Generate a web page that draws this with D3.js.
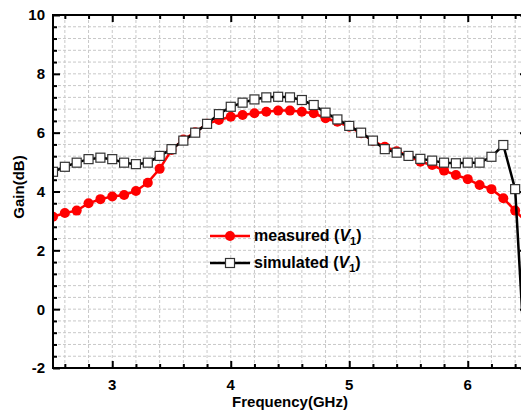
<!DOCTYPE html>
<html>
  <head>
    <meta charset='utf-8' />
    <script src="https://d3js.org/d3.v7.min.js"></script>
    <style>
    body { margin: 0; background: #fff; }
    svg { display: block; overflow: hidden; }
    text { font-family: "Liberation Sans", Arial, sans-serif; font-weight: bold; fill: #000; }
    </style>
  </head>
  <body>
    <div id="chart"></div>
    <script>
var freq = [2.5, 2.6, 2.7, 2.8, 2.9, 3.0, 3.1, 3.2, 3.3, 3.4, 3.5, 3.6, 3.7, 3.8, 3.9,
            4.0, 4.1, 4.2, 4.3, 4.4, 4.5, 4.6, 4.7, 4.8, 4.9, 5.0, 5.1, 5.2, 5.3, 5.4,
            5.5, 5.6, 5.7, 5.8, 5.9, 6.0, 6.1, 6.2, 6.3, 6.4, 6.5];
var measured = [3.14, 3.27, 3.35, 3.6, 3.74, 3.83, 3.88, 4.02, 4.30, 4.77, 5.41, 5.77, 6.01, 6.30, 6.43,
                6.54, 6.60, 6.66, 6.71, 6.75, 6.75, 6.71, 6.66, 6.49, 6.37, 6.20, 5.98, 5.72, 5.52, 5.37,
                5.21, 5.01, 4.90, 4.71, 4.56, 4.42, 4.22, 4.08, 3.77, 3.35, 2.95];
var simulated = [4.67, 4.84, 4.98, 5.10, 5.15, 5.10, 4.98, 4.93, 4.98, 5.21, 5.44, 5.73, 6.00, 6.30, 6.63,
                 6.88, 7.02, 7.13, 7.20, 7.22, 7.20, 7.11, 6.94, 6.68, 6.45, 6.23, 6.00, 5.73, 5.44, 5.32,
                 5.21, 5.11, 5.05, 4.98, 4.96, 4.98, 4.98, 5.18, 5.58, 4.08, -3.0];
var xTicks = [3, 4, 5, 6];
var yTicks = [-2, 0, 2, 4, 6, 8, 10];
var xDomain = [2.5, 6.5], yDomain = [-2, 10];

var width = 521, height = 412;
var margin = {top: 15, left: 53, bottom: 44, right: -6};
var innerW = width - margin.left - margin.right,
    innerH = height - margin.top - margin.bottom;

var svg = d3.select("#chart").append("svg")
    .attr("width", width).attr("height", height);
var g = svg.append("g")
    .attr("transform", "translate(" + margin.left + "," + margin.top + ")");

var x = d3.scaleLinear().domain(xDomain).range([0, innerW]);
var y = d3.scaleLinear().domain(yDomain).range([innerH, 0]);

// minor positions for grid and small ticks
var xMinor = d3.range(13, 33).map(function(d) { return d / 5; });
var yMinor = d3.range(-4, 26).map(function(d) { return d * 0.4; })
    .filter(function(d) { return d > -2.01 && d < 10.01; });

// grid
g.append("g").selectAll("line").data(xMinor).enter().append("line")
  .attr("x1", function(d) { return x(d); }).attr("x2", function(d) { return x(d); })
  .attr("y1", 0).attr("y2", innerH)
  .style("stroke", "#c8c8c8").style("stroke-width", 1).style("stroke-dasharray", "3,2");
g.append("g").selectAll("line").data(yMinor).enter().append("line")
  .attr("y1", function(d) { return y(d); }).attr("y2", function(d) { return y(d); })
  .attr("x1", 0).attr("x2", innerW)
  .style("stroke", "#c8c8c8").style("stroke-width", 1).style("stroke-dasharray", "3,2");

// axes with inward ticks on all four sides
function styleAxis(sel) {
  sel.select(".domain").remove();
  sel.selectAll(".tick line").style("stroke", "#000").style("stroke-width", 2);
  sel.selectAll("text").remove();
}
var xMinorOnly = xMinor.filter(function(d) { return xTicks.indexOf(Math.round(d * 10) / 10) < 0; });
var yMinorOnly = yMinor.filter(function(d) { return yTicks.indexOf(Math.round(d * 10) / 10) < 0; });

g.append("g").attr("transform", "translate(0," + innerH + ")")
  .call(d3.axisBottom(x).tickValues(xTicks).tickSize(-7)).call(styleAxis);
g.append("g").attr("transform", "translate(0," + innerH + ")")
  .call(d3.axisBottom(x).tickValues(xMinorOnly).tickSize(-4)).call(styleAxis);
g.append("g").call(d3.axisTop(x).tickValues(xTicks).tickSize(-7)).call(styleAxis);
g.append("g").call(d3.axisTop(x).tickValues(xMinorOnly).tickSize(-4)).call(styleAxis);
g.append("g").call(d3.axisLeft(y).tickValues(yTicks).tickSize(-7)).call(styleAxis);
g.append("g").call(d3.axisLeft(y).tickValues(yMinorOnly).tickSize(-4)).call(styleAxis);
g.append("g").attr("transform", "translate(" + innerW + ",0)")
  .call(d3.axisRight(y).tickValues(yTicks).tickSize(-7)).call(styleAxis);
g.append("g").attr("transform", "translate(" + innerW + ",0)")
  .call(d3.axisRight(y).tickValues(yMinorOnly).tickSize(-4)).call(styleAxis);

// tick labels
g.append("g").selectAll("text").data(xTicks).enter().append("text")
  .attr("x", function(d) { return x(d); }).attr("y", innerH + 22)
  .style("text-anchor", "middle").style("font-size", "15px")
  .text(function(d) { return d; });
g.append("g").selectAll("text").data(yTicks).enter().append("text")
  .attr("x", -8).attr("y", function(d) { return y(d); }).attr("dy", "0.36em")
  .style("text-anchor", "end").style("font-size", "15px")
  .text(function(d) { return d; });

// titles
svg.append("text").attr("x", 290).attr("y", 407)
  .style("text-anchor", "middle").style("font-size", "15px")
  .text("Frequency(GHz)");
svg.append("text").attr("transform", "translate(24,187) rotate(-90)")
  .style("text-anchor", "middle").style("font-size", "15px")
  .text("Gain(dB)");

// data
svg.append("clipPath").attr("id", "clip").append("rect")
  .attr("width", innerW).attr("height", innerH);
var data = freq.map(function(f, i) { return {f: f, m: measured[i], s: simulated[i]}; });
var lineM = d3.line().x(function(d) { return x(d.f); }).y(function(d) { return y(d.m); });
var lineS = d3.line().x(function(d) { return x(d.f); }).y(function(d) { return y(d.s); });

var plot = g.append("g").attr("clip-path", "url(#clip)");
plot.append("path").datum(data).attr("d", lineM)
  .style("fill", "none").style("stroke", "#ff0000").style("stroke-width", 2.5);
plot.selectAll(".dotM").data(data).enter().append("circle")
  .attr("class", "dotM")
  .attr("cx", function(d) { return x(d.f); }).attr("cy", function(d) { return y(d.m); })
  .attr("r", 5).style("fill", "#ff0000");
plot.append("path").datum(data).attr("d", lineS)
  .style("fill", "none").style("stroke", "#000").style("stroke-width", 2.5);
plot.selectAll(".dotS").data(data).enter().append("rect")
  .attr("class", "dotS")
  .attr("x", function(d) { return x(d.f) - 4.5; }).attr("y", function(d) { return y(d.s) - 4.5; })
  .attr("width", 9).attr("height", 9)
  .style("fill", "#fff").style("stroke", "#333").style("stroke-width", 1.2);

// frame
g.append("rect").attr("width", innerW).attr("height", innerH)
  .style("fill", "none").style("stroke", "#000").style("stroke-width", 2);

// legend
var legend = svg.append("g");
var items = [
  {label: "measured (", color: "#ff0000", shape: "circle"},
  {label: "simulated (", color: "#000", shape: "rect"}
];
items.forEach(function(it, i) {
  var ly = 236 + i * 27;
  legend.append("line").attr("x1", 210).attr("x2", 250).attr("y1", ly).attr("y2", ly)
    .style("stroke", it.color).style("stroke-width", 2.5);
  if (it.shape === "circle") {
    legend.append("circle").attr("cx", 230).attr("cy", ly).attr("r", 5).style("fill", it.color);
  } else {
    legend.append("rect").attr("x", 225.5).attr("y", ly - 4.5).attr("width", 9).attr("height", 9)
      .style("fill", "#fff").style("stroke", "#333").style("stroke-width", 1.2);
  }
  var t = legend.append("text").attr("x", 254).attr("y", ly + 5).style("font-size", "16px");
  t.append("tspan").text(it.label);
  t.append("tspan").style("font-style", "italic").text("V");
  t.append("tspan").attr("dy", 4).style("font-size", "11px").text("1");
  t.append("tspan").attr("dy", -4).text(")");
});
    </script>
</body>
</html>
